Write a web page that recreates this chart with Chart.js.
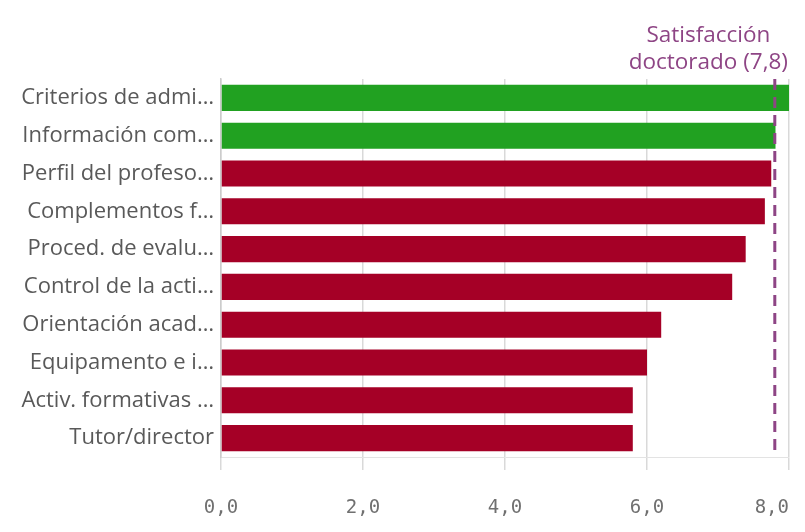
<!DOCTYPE html>
<html>
<head>
<meta charset="utf-8">
<script src="https://cdn.jsdelivr.net/npm/chart.js@4"></script>
<style>
  html, body { margin: 0; padding: 0; background: #fff; }
  #wrap { width: 805px; height: 532px; }
</style>
</head>
<body>
<div id="wrap"><canvas id="chart"></canvas></div>
<script>
const categories = [
    'Criterios de admi…',
    'Información com…',
    'Perfil del profeso…',
    'Complementos f…',
    'Proced. de evalu…',
    'Control de la acti…',
    'Orientación acad…',
    'Equipamento e i…',
    'Activ. formativas …',
    'Tutor/director'
];
const scores = [8.02, 7.81, 7.75, 7.66, 7.39, 7.2, 6.2, 6.0, 5.8, 5.8];
const refValue = 7.8;
const refLabel = ['Satisfacción', 'doctorado (7,8)'];
const xTicks = [0, 2, 4, 6, 8];

const GREEN = '#21a121';
const RED = '#a50026';

const barColors = scores.map(v => v >= refValue ? GREEN : RED);

// dashed reference line + its label
const refLinePlugin = {
    id: 'refLine',
    afterDatasetsDraw(chart) {
        const ctx = chart.ctx;
        const area = chart.chartArea;
        const x = chart.scales.x.getPixelForValue(refValue);
        ctx.save();
        ctx.strokeStyle = '#8e4585';
        ctx.lineWidth = 3;
        ctx.setLineDash([11, 7]);
        ctx.beginPath();
        ctx.moveTo(x, area.top);
        ctx.lineTo(x, area.bottom);
        ctx.stroke();
        ctx.setLineDash([]);

        ctx.font = '22.5px "Open Sans"';
        ctx.fillStyle = '#8e4585';
        ctx.textAlign = 'center';
        ctx.textBaseline = 'alphabetic';
        const w = Math.max(...refLabel.map(t => ctx.measureText(t).width));
        const cx = Math.min(x, chart.width - 17 - w / 2);
        ctx.fillText(refLabel[0], cx, 42);
        ctx.fillText(refLabel[1], cx, 69);
        ctx.restore();
    }
};

new Chart(document.getElementById('chart').getContext('2d'), {
    type: 'bar',
    data: {
        labels: categories,
        datasets: [{
            data: scores,
            backgroundColor: barColors,
            borderWidth: 0,
            categoryPercentage: 0.69,
            barPercentage: 1.0
        }]
    },
    options: {
        indexAxis: 'y',
        responsive: true,
        maintainAspectRatio: false,
        animation: false,
        layout: { padding: { top: 79, right: 16, left: 0, bottom: 0 } },
        plugins: {
            legend: { display: false },
            tooltip: { enabled: false }
        },
        scales: {
            x: {
                min: 0,
                max: 8,
                afterBuildTicks: (scale) => {
                    scale.ticks = xTicks.map(v => ({ value: v }));
                },
                afterFit: (scale) => {
                    scale.height = 532 - 457;
                    scale.paddingRight = 0;
                },
                grid: {
                    color: '#d9d9d9',
                    lineWidth: 1.5,
                    tickLength: 13,
                    drawOnChartArea: true
                },
                border: { display: true, color: '#e3e3e3', width: 1 },
                ticks: {
                    padding: 27,
                    color: '#707070',
                    font: { family: 'DejaVu Sans Mono', size: 19 },
                    maxRotation: 0,
                    // monospace: trailing spaces keep the last label inside the canvas
                    callback: (v) => {
                        const s = v.toFixed(1).replace('.', ',');
                        return v === 8 ? s + '   ' : s;
                    }
                }
            },
            y: {
                afterFit: (scale) => { scale.width = 221; },
                grid: { display: false, drawTicks: false },
                border: { display: true, color: '#cccccc', width: 1.5 },
                ticks: {
                    padding: 7,
                    color: '#595959',
                    font: { family: 'Open Sans', size: 22 },
                    autoSkip: false
                }
            }
        }
    },
    plugins: [refLinePlugin]
});
</script>
</body>
</html>
